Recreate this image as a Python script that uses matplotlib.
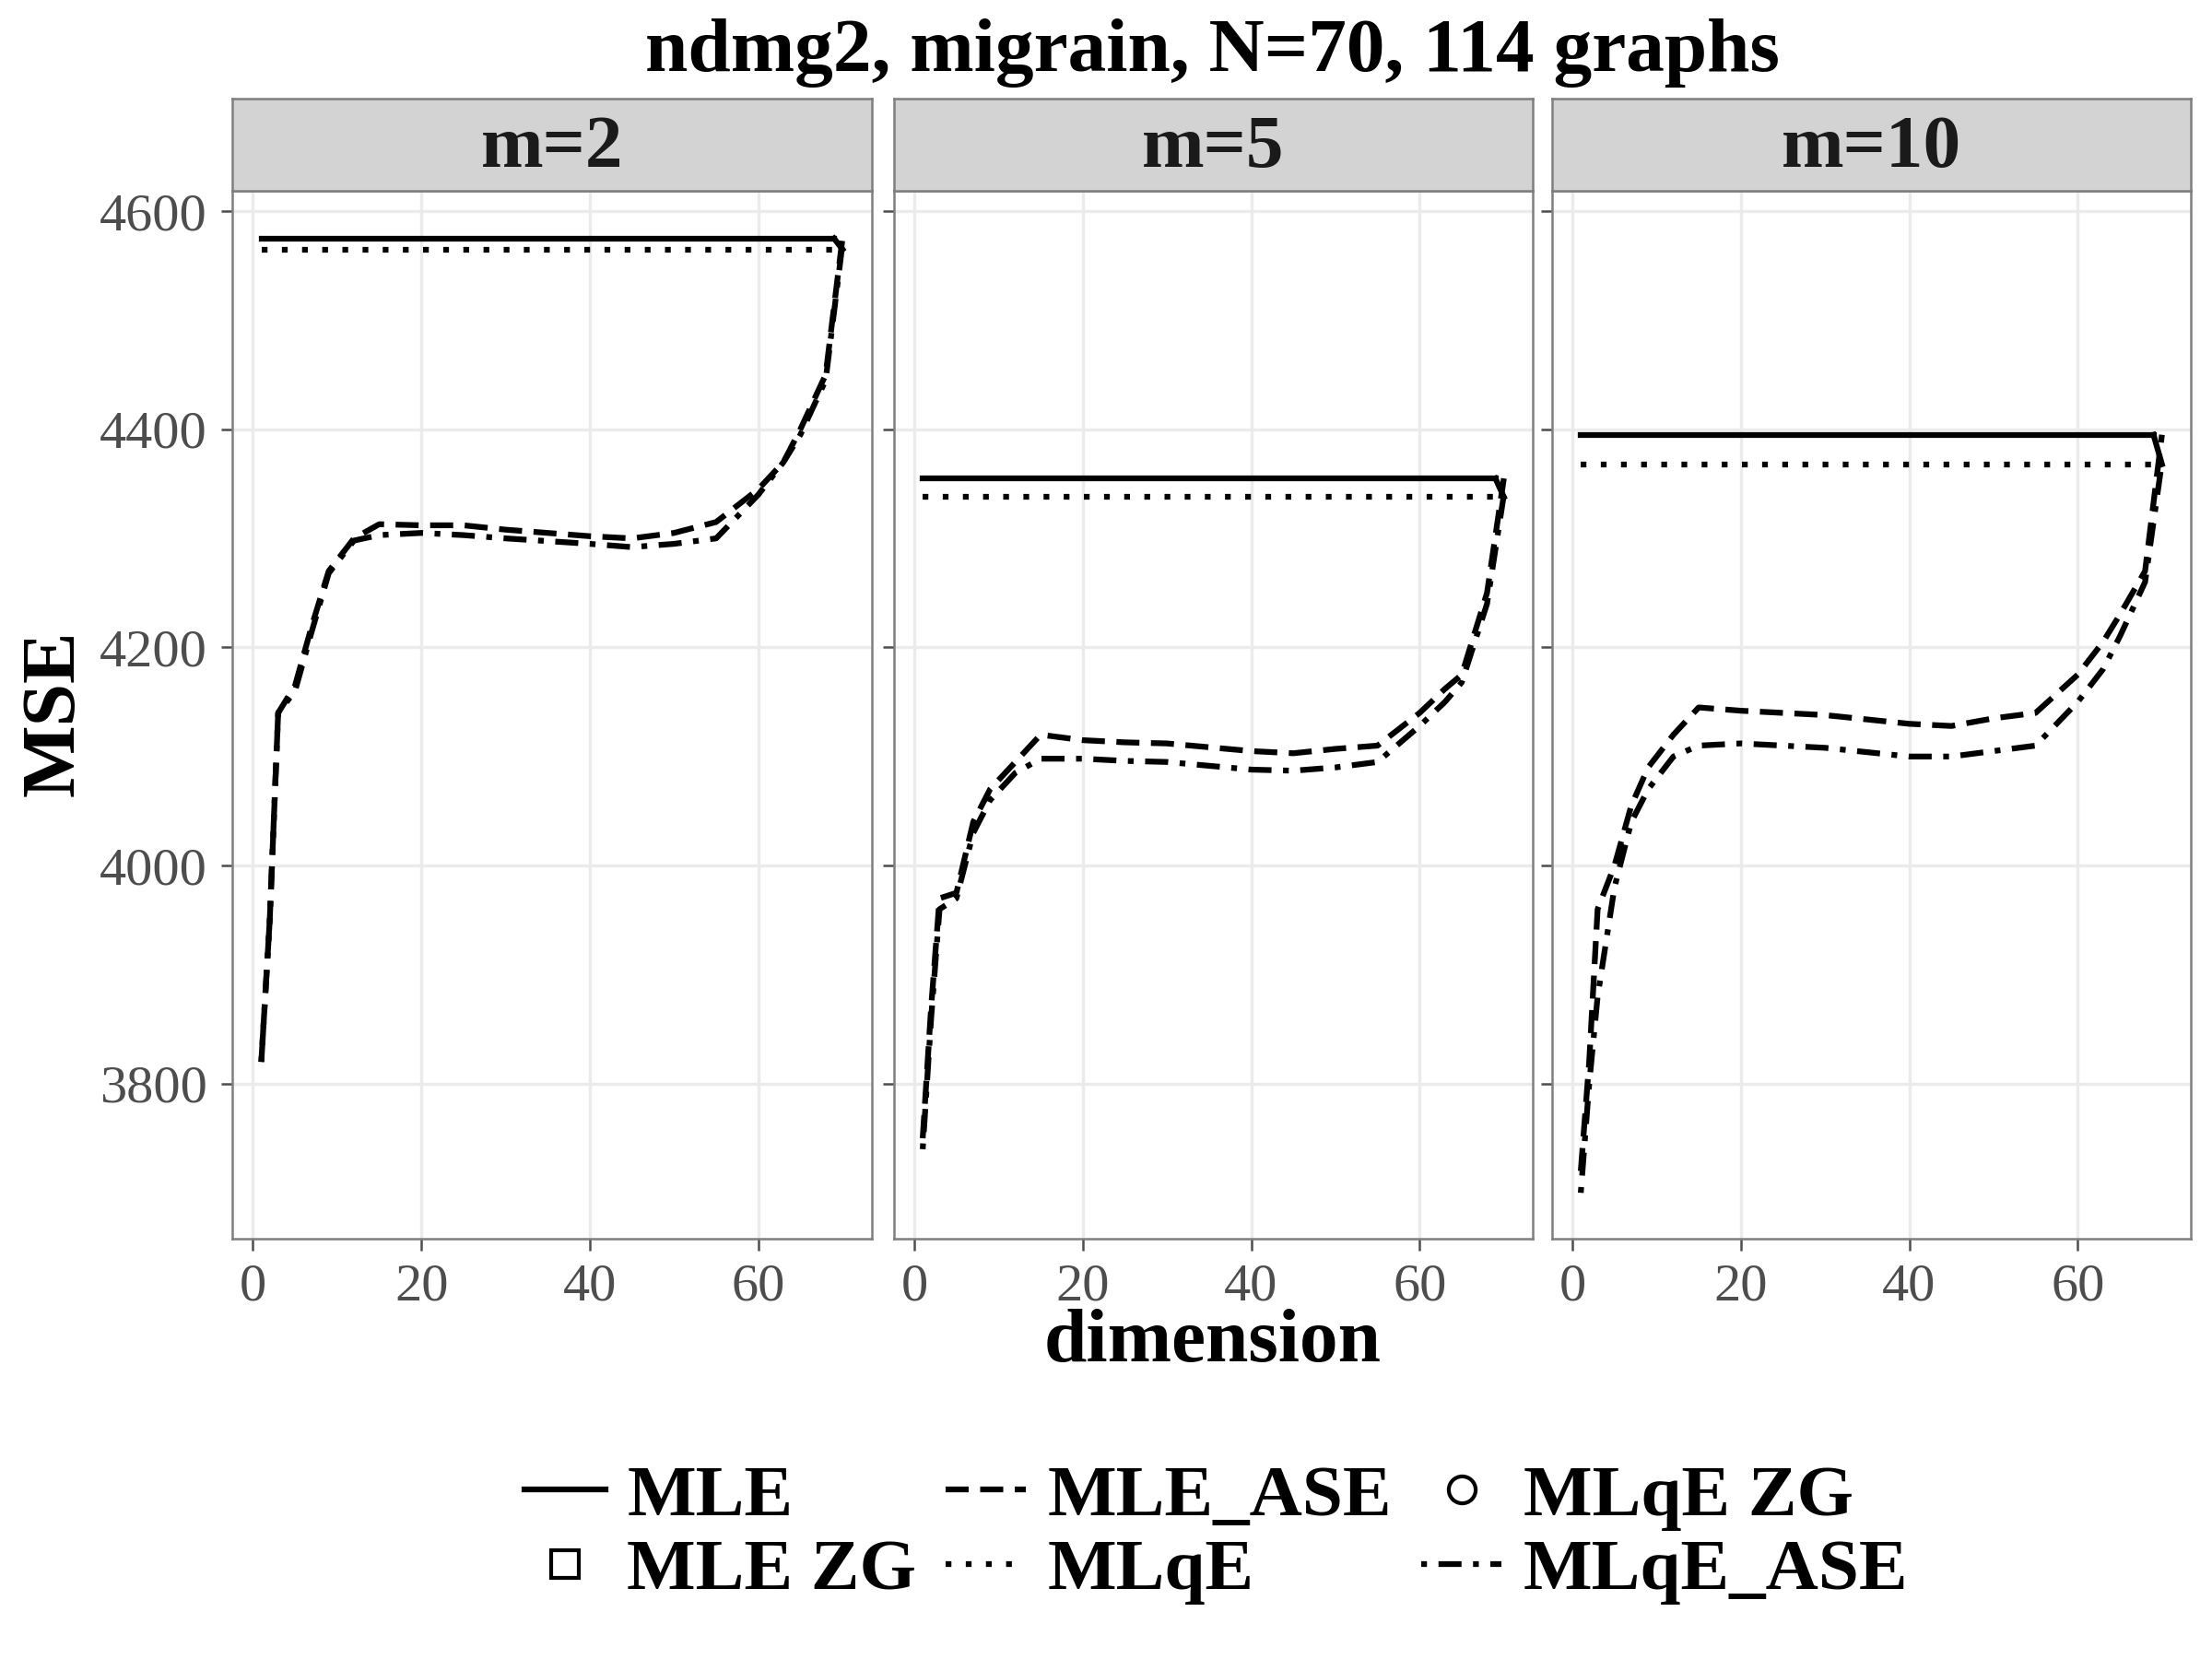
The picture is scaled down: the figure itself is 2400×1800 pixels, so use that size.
import numpy as np
import matplotlib.pyplot as plt
from matplotlib.lines import Line2D

plt.rcParams['font.family'] = ['Liberation Serif', 'DejaVu Serif']

panels = ["m=2", "m=5", "m=10"]
mle = [4575, 4355, 4395]
mlqe = [4565, 4338, 4368]

dims_ase = [1, 2, 3, 5, 7, 9, 12, 15, 20, 25, 30, 40, 45, 50, 55, 60, 63, 65, 68, 70]
mle_ase = [
    [3820, 3950, 4140, 4165, 4220, 4270, 4300, 4313, 4312, 4312, 4308, 4302, 4300, 4305, 4315, 4345, 4370, 4400, 4450, 4575],
    [3750, 3870, 3970, 3975, 4040, 4070, 4095, 4120, 4115, 4113, 4112, 4105, 4103, 4107, 4110, 4140, 4162, 4175, 4250, 4355],
    [3720, 3820, 3960, 4000, 4055, 4090, 4120, 4145, 4142, 4140, 4138, 4130, 4128, 4135, 4140, 4175, 4205, 4230, 4270, 4395],
]
mlqe_ase = [
    [3820, 3950, 4140, 4160, 4215, 4268, 4298, 4303, 4305, 4303, 4300, 4295, 4292, 4295, 4300, 4340, 4370, 4395, 4445, 4570],
    [3740, 3860, 3960, 3970, 4030, 4060, 4085, 4098, 4098, 4096, 4095, 4088, 4087, 4090, 4095, 4128, 4150, 4168, 4240, 4340],
    [3700, 3800, 3880, 3980, 4040, 4070, 4100, 4110, 4112, 4110, 4108, 4100, 4100, 4105, 4110, 4150, 4180, 4210, 4260, 4370],
]

fig = plt.figure(figsize=(8, 6), dpi=300)
lefts = [0.105, 0.404, 0.7015]
w, bottom, h = 0.289, 0.2534, 0.6318
for i, name in enumerate(panels):
    ax = fig.add_axes([lefts[i], bottom, w, h])
    ax.grid(True, color='#ebebeb', lw=0.8)
    ax.set_axisbelow(True)
    ax.plot([1, 69], [mle[i], mle[i]], color='black', lw=1.5)
    ax.plot([69, 70], [mle[i], mlqe[i]], color='black', lw=1.5)
    ax.plot([1, 70], [mlqe[i], mlqe[i]], color='black', lw=1.5, ls=(0, (1, 2.5)))
    ax.plot(dims_ase, mle_ase[i], color='black', lw=1.5, ls=(0, (4, 2)))
    ax.plot(dims_ase, mlqe_ase[i], color='black', lw=1.5, ls=(0, (1, 2, 4, 2)))
    ax.set_xlim(-2.45, 73.45)
    ax.set_ylim(3658, 4619)
    ax.set_xticks([0, 20, 40, 60])
    ax.set_yticks([3800, 4000, 4200, 4400, 4600])
    ax.tick_params(labelsize=14, colors='#4d4d4d', length=3, width=0.6)
    if i > 0:
        ax.set_yticklabels([])
    for s in ax.spines.values():
        s.set_color('#7f7f7f')
        s.set_linewidth(0.6)
    sax = fig.add_axes([lefts[i], bottom + h, w, 0.0553])
    sax.set_facecolor('#d3d3d3')
    sax.set_xticks([]); sax.set_yticks([])
    for s in sax.spines.values():
        s.set_color('#7f7f7f'); s.set_linewidth(0.6)
    sax.text(0.5, 0.45, name, ha='center', va='center', fontsize=19.5, fontweight='bold', color='#1a1a1a')

fig.text(0.548, 0.968, "ndmg2, migrain, N=70, 114 graphs", ha='center', va='center', fontsize=20, fontweight='bold')
fig.text(0.548, 0.19, "dimension", ha='center', va='center', fontsize=20, fontweight='bold')
fig.text(0.025, 0.57, "MSE", ha='center', va='center', fontsize=20, fontweight='bold', rotation=90)

handles = [
    Line2D([], [], color='black', lw=1.5),
    Line2D([], [], color='black', marker='s', ls='none', mfc='none', ms=7),
    Line2D([], [], color='black', lw=1.5, ls=(0, (4, 2))),
    Line2D([], [], color='black', lw=1.5, ls=(0, (1, 2.5))),
    Line2D([], [], color='black', marker='o', ls='none', mfc='none', ms=7),
    Line2D([], [], color='black', lw=1.5, ls=(0, (1, 2, 4, 2))),
]
labels = ["MLE", "MLE ZG", "MLE_ASE", "MLqE", "MLqE ZG", "MLqE_ASE"]
leg = fig.legend(handles, labels, ncol=3, loc='center', bbox_to_anchor=(0.55, 0.075),
                 frameon=False, prop={'size': 19, 'weight': 'bold'},
                 handlelength=1.1, columnspacing=0.4, handletextpad=0.3, labelspacing=0.1)
fig.savefig("out.png", dpi=300)
